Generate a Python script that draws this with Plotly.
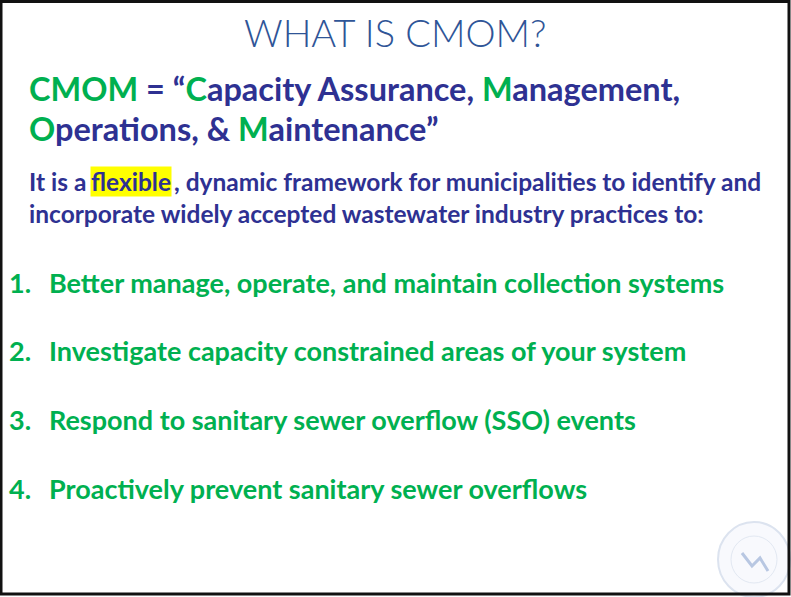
import plotly.graph_objects as go

W, H = 791, 597
NAVY = "#2E3192"
GREEN = "#00B050"
TITLE_BLUE = "#2F5597"

title_text = "WHAT IS CMOM?"
heading_lines = [
    f"<span style='color:{GREEN}'>CMOM</span> = “<span style='color:{GREEN}'>C</span>apacity Assurance, <span style='color:{GREEN}'>M</span>anagement,",
    f"<span style='color:{GREEN}'>O</span>perations, &amp; <span style='color:{GREEN}'>M</span>aintenance”",
]
intro_parts = ["It is a", "flexible", ", dynamic framework for municipalities to identify and"]
intro_line2 = "incorporate widely accepted wastewater industry practices to:"
item_numbers = ["1.", "2.", "3.", "4."]
item_texts = [
    "Better manage, operate, and maintain collection systems",
    "Investigate capacity constrained areas of your system",
    "Respond to sanitary sewer overflow (SSO) events",
    "Proactively prevent sanitary sewer overflows",
]

FONT = "Lato"
fig = go.Figure()
ann = []

ann.append(dict(x=395, y=32, text=title_text, xanchor="center", yanchor="middle",
                font=dict(family=FONT, size=38, color=TITLE_BLUE, weight=300)))

for y, t in zip([88, 128], heading_lines):
    ann.append(dict(x=27, y=y, text=t, xanchor="left", yanchor="middle",
                    font=dict(family=FONT, size=32.5, color=NAVY, weight="bold")))

intro_x = [27, 91, 172]
for x, t in zip(intro_x, intro_parts):
    d = dict(x=x, y=181, text=t, xanchor="left", yanchor="middle",
             font=dict(family=FONT, size=24.5, color=NAVY, weight="bold"))
    if t == "flexible":
        d.update(x=90, bgcolor="#FFFF00", borderpad=0)
    ann.append(d)
ann.append(dict(x=27, y=213, text=intro_line2, xanchor="left", yanchor="middle",
                font=dict(family=FONT, size=24.5, color=NAVY, weight="bold")))

item_y = [282, 350, 419, 488]
for y, n, t in zip(item_y, item_numbers, item_texts):
    ann.append(dict(x=7, y=y, text=n, xanchor="left", yanchor="middle",
                    font=dict(family=FONT, size=27, color=GREEN, weight="bold")))
    ann.append(dict(x=47, y=y, text=t, xanchor="left", yanchor="middle",
                    font=dict(family=FONT, size=27, color=GREEN, weight="bold")))

for a in ann:
    a.update(xref="x", yref="y", showarrow=False)

shapes = [
    # faint seal logo
    dict(type="circle", x0=718, y0=522, x1=790, y1=597,
         line=dict(color="#DCE3EF", width=2), fillcolor="rgba(246,248,252,0.8)"),
    dict(type="circle", x0=731, y0=536, x1=777, y1=583,
         line=dict(color="#E2E8F2", width=1)),
    dict(type="path", path="M 742 553 L 752 566 L 760 558 L 768 571",
         line=dict(color="#B8C7E2", width=3)),
    # slide border
    dict(type="rect", x0=1, y0=1.5, x1=789, y1=594, line=dict(color="#111111", width=3)),
]

fig.update_layout(
    width=W, height=H, autosize=False,
    margin=dict(l=0, r=0, t=0, b=0),
    paper_bgcolor="white", plot_bgcolor="white",
    xaxis=dict(range=[0, W], visible=False, fixedrange=True),
    yaxis=dict(range=[H, 0], visible=False, fixedrange=True),
    annotations=ann, shapes=shapes, showlegend=False,
)
fig.write_html("out.html", config={"displayModeBar": False},
               post_script="document.body.style.margin='0';document.body.style.overflow='hidden';")
